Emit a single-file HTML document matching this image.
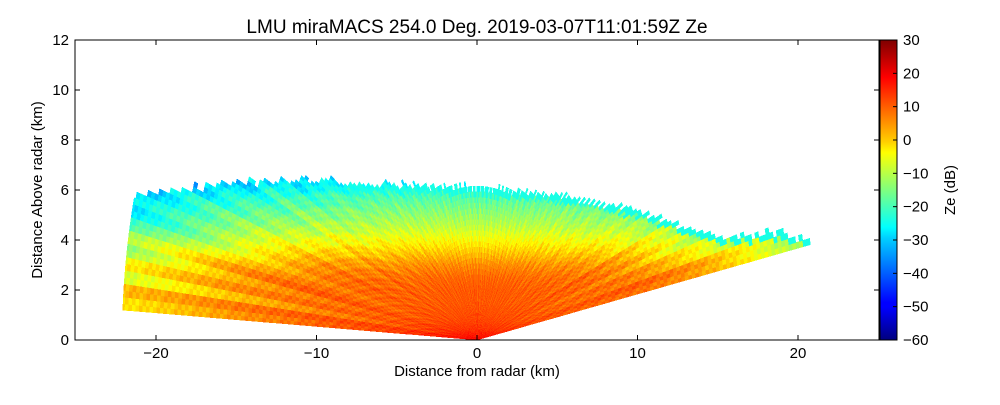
<!DOCTYPE html>
<html><head><meta charset="utf-8"><style>
body{margin:0;background:#fff;width:1000px;height:400px;overflow:hidden;font-family:"Liberation Sans",sans-serif}
svg text{font-family:"Liberation Sans","DejaVu Sans",sans-serif;fill:#000}
</style></head><body>
<svg id="chart" width="1000" height="400" xmlns="http://www.w3.org/2000/svg">
<defs><linearGradient id="jetg" x1="0" y1="1" x2="0" y2="0">
<stop offset="0" stop-color="#00007f"/><stop offset="0.11" stop-color="#0000ff"/><stop offset="0.125" stop-color="#0000ff"/>
<stop offset="0.34" stop-color="#00d0ff"/><stop offset="0.375" stop-color="#00ffff"/><stop offset="0.5" stop-color="#7fff7f"/>
<stop offset="0.625" stop-color="#ffff00"/><stop offset="0.66" stop-color="#ffd000"/><stop offset="0.875" stop-color="#ff0000"/><stop offset="1" stop-color="#7f0000"/>
</linearGradient><clipPath id="pclip"><rect x="75" y="40" width="804" height="300"/></clipPath></defs>
<text x="477" y="33" font-size="19" text-anchor="middle">LMU miraMACS 254.0 Deg. 2019-03-07T11:01:59Z  Ze</text>
<g id="cells" clip-path="url(#pclip)" shape-rendering="crispEdges"></g>
<rect x="75" y="40" width="804" height="300" fill="none" stroke="#000" stroke-width="1"/>
<g id="axes"></g>
<text x="477" y="376" font-size="15" text-anchor="middle">Distance from radar (km)</text>
<text transform="translate(42,190) rotate(-90)" font-size="15" text-anchor="middle">Distance Above radar  (km)</text>
<rect x="880" y="40" width="17" height="300" fill="url(#jetg)" stroke="#000" stroke-width="1"/>
<g id="cbaxis"></g>
<text transform="translate(955,190) rotate(-90)" font-size="15" text-anchor="middle">Ze (dB)</text>
</svg>
<script>
const xTicks=[-20,-10,0,10,20];
const yTicks=[0,2,4,6,8,10,12];
const cbTicks=[30,20,10,0,-10,-20,-30,-40,-50,-60];
const profHeights=[0,0.4,0.8,1.5,2,2.5,3,3.5,4,4.5,5,5.5,6,6.5];
const profZe=[19,15,13,12,12,11,8,3,-2,-7,-11,-15,-20,-26];
const attenRange=[0,2,5,10,15,20,23];
const attenZe=[0,-1,-2,-3,-6,-11,-13];
const topX=[-23,-21,-15,-10,-5,0,5,10,13,15,19,21,23];
const topH=[5.5,5.8,6.3,6.4,6.2,6.1,5.8,5.2,4.5,4.1,4.3,3.9,3.8];
const rayOffsets=[0,3,-2,1,-4,2,-1,4,-3,0,2,-2,3,-1,1,-3];
const elMin=10.4, elMax=176.9, elStep=0.7, rMax=22.1, rStep=0.22;
const X=v=>477+v*16.05, Y=v=>340-v*25, CB=v=>340-(v+60)*300/90;
const NS="http://www.w3.org/2000/svg";
function interp(xs,ys,x){if(x<=xs[0])return ys[0];for(let i=1;i<xs.length;i++)if(x<=xs[i]){const t=(x-xs[i-1])/(xs[i]-xs[i-1]);return ys[i-1]+t*(ys[i]-ys[i-1]);}return ys[ys.length-1];}
function jet(v){const t=Math.max(0,Math.min(1,(v+60)/90));const f=x=>Math.max(0,Math.min(1,x));
const r=f(1.5-Math.abs(4*t-3)),g=f(1.5-Math.abs(4*t-2)),b=f(1.5-Math.abs(4*t-1));return `rgb(${r*255|0},${g*255|0},${b*255|0})`;}
const cells=document.getElementById('cells');
let k=0;
for(let el=elMin;el<elMax;el+=elStep,k++){
  const a0=el*Math.PI/180,a1=Math.min(el+elStep,elMax)*Math.PI/180,am=(a0+a1)/2;
  const off=rayOffsets[Math.floor(k/2)%rayOffsets.length];
  for(let r=0;r<rMax;r+=rStep){
    const rm=r+rStep/2,xm=rm*Math.cos(am),ym=rm*Math.sin(am);
    const top=interp(topX,topH,xm)+(((k*5+Math.round(r/rStep)*3)%7)-3)*0.04;
    if(ym>top)continue;
    const jit=((k*7+Math.round(r/rStep)*13)%5)-2;
    let z=interp(profHeights,profZe,ym)+interp(attenRange,attenZe,rm)+off*0.8*(rm/15+0.3)+jit;
    if(top-ym<0.25)z=Math.min(z,-24);
    const r1=Math.min(r+rStep,rMax);
    const pts=[[r,a0],[r1,a0],[r1,a1],[r,a1]].map(([rr,aa])=>X(rr*Math.cos(aa)).toFixed(1)+','+Y(rr*Math.sin(aa)).toFixed(1)).join(' ');
    const p=document.createElementNS(NS,'polygon');
    
    
    p.setAttribute('points',pts);p.setAttribute('fill',jet(z));
    p.setAttribute('stroke',jet(z));p.setAttribute('stroke-width','0.5');
    cells.appendChild(p);
  }
}
const axes=document.getElementById('axes');
function add(tag,attrs,txt){const e=document.createElementNS(NS,tag);for(const a in attrs)e.setAttribute(a,attrs[a]);if(txt!==undefined)e.textContent=txt;return e;}
xTicks.forEach(v=>{const g=add('g',{});


g.appendChild(add('line',{x1:X(v),x2:X(v),y1:340,y2:335,stroke:'#000'}));
g.appendChild(add('line',{x1:X(v),x2:X(v),y1:40,y2:45,stroke:'#000'}));
g.appendChild(add('text',{x:X(v),y:358,'font-size':15,'text-anchor':'middle'},v<0?'\u2212'+(-v):String(v)));axes.appendChild(g);});
yTicks.forEach(v=>{const g=add('g',{});


g.appendChild(add('line',{x1:75,x2:80,y1:Y(v),y2:Y(v),stroke:'#000'}));
g.appendChild(add('line',{x1:879,x2:874,y1:Y(v),y2:Y(v),stroke:'#000'}));
g.appendChild(add('text',{x:69,y:Y(v)+5,'font-size':15,'text-anchor':'end'},String(v)));axes.appendChild(g);});
const cb=document.getElementById('cbaxis');
cbTicks.forEach(v=>{const g=add('g',{});


g.appendChild(add('line',{x1:893,x2:897,y1:CB(v),y2:CB(v),stroke:'#000'}));
g.appendChild(add('text',{x:903,y:CB(v)+5,'font-size':15},v<0?'\u2212'+(-v):String(v)));cb.appendChild(g);});
</script>
</body></html>
